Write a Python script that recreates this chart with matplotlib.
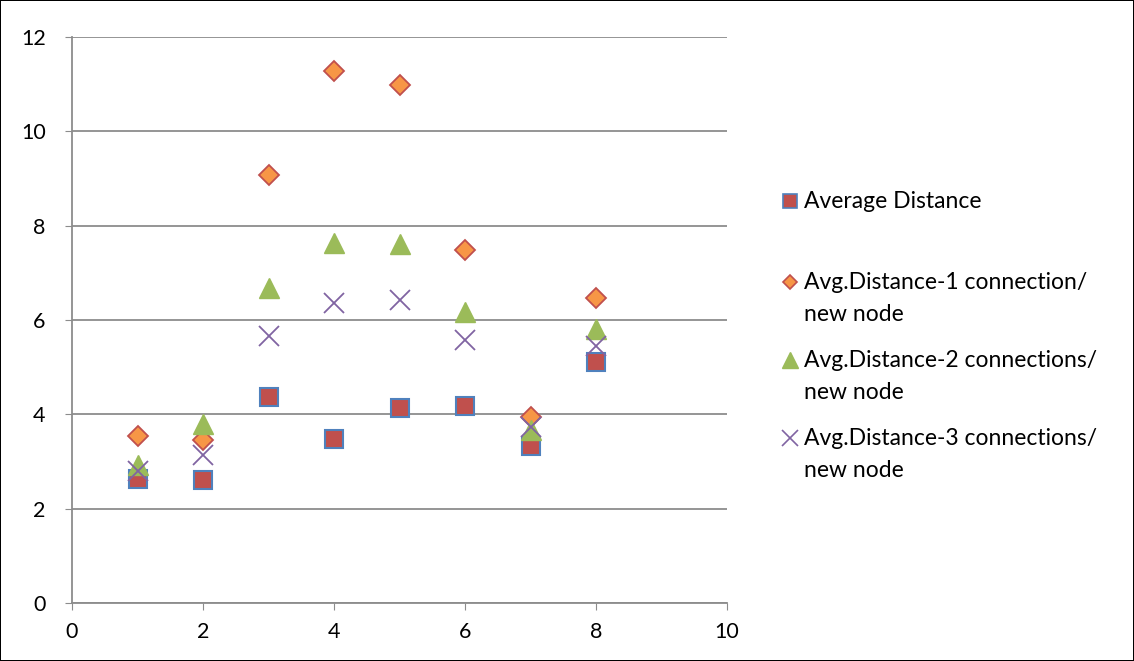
import matplotlib.pyplot as plt
from matplotlib.lines import Line2D

x = [1, 2, 3, 4, 5, 6, 7, 8]
avg_dist = [2.63, 2.6, 4.36, 3.47, 4.14, 4.18, 3.33, 5.1]
avg_1conn = [3.54, 3.45, 9.07, 11.28, 10.98, 7.48, 3.95, 6.47]
avg_2conn = [2.93, 3.79, 6.67, 7.64, 7.62, 6.16, 3.67, 5.8]
avg_3conn = [2.8, 3.14, 5.67, 6.36, 6.42, 5.58, 3.74, 5.45]

labels = [
    "Average Distance",
    "Avg.Distance-1 connection/\nnew node",
    "Avg.Distance-2 connections/\nnew node",
    "Avg.Distance-3 connections/\nnew node",
]

plt.rcParams["font.family"] = ["Lato", "DejaVu Sans"]

W, H = 1134, 661
fig = plt.figure(figsize=(W / 100, H / 100), dpi=100)
fig.patch.set_edgecolor("black")
fig.patch.set_linewidth(1.2)
ax = fig.add_axes([72 / W, 58 / H, 655 / W, 566 / H])

styles = [
    dict(marker="s", ms=13, mfc="#C0504D", mec="#4F81BD", mew=1.5),
    dict(marker="D", ms=10, mfc="#F79646", mec="#C0504D", mew=1.3),
    dict(marker="^", ms=14, mfc="#9BBB59", mec="#9BBB59", mew=1),
    dict(marker="x", ms=14, mfc="none", mec="#8064A2", mew=1.3),
]
series = [avg_dist, avg_1conn, avg_2conn, avg_3conn]
for ys, st, lab in zip(series, styles, labels):
    ax.plot(x, ys, ls="none", label=lab, **st)

ax.set_xlim(0, 10)
ax.set_ylim(0, 12)
ax.set_xticks(range(0, 11, 2))
ax.set_yticks(range(0, 13, 2))
ax.yaxis.grid(True, color="#8C8C8C", lw=1.3)
ax.set_axisbelow(True)
for s in ["top", "right"]:
    ax.spines[s].set_visible(False)
for s in ["left", "bottom"]:
    ax.spines[s].set_color("#8C8C8C")
    ax.spines[s].set_linewidth(1.3)
ax.tick_params(direction="out", length=5, color="#8C8C8C", labelsize=15.5)
ax.tick_params(axis="y", pad=14)
ax.tick_params(axis="x", pad=9)

# legend on the right, laid out like the Excel one (marker next to first line)
leg_ms = [10, 7.5, 11, 11]
row_y = [201, 282, 360, 438]
for st, lab, ms, py in zip(styles, labels, leg_ms, row_y):
    st2 = dict(st)
    st2["ms"] = ms
    st2["mew"] = min(st["mew"], 1.2)
    fig.add_artist(Line2D([790 / W], [1 - py / H], transform=fig.transFigure, **st2))
    fig.text(804 / W, 1 - (py - 10) / H, lab, fontsize=16.5, va="top", ha="left",
             linespacing=1.62)

fig.savefig("out.png", dpi=100)
